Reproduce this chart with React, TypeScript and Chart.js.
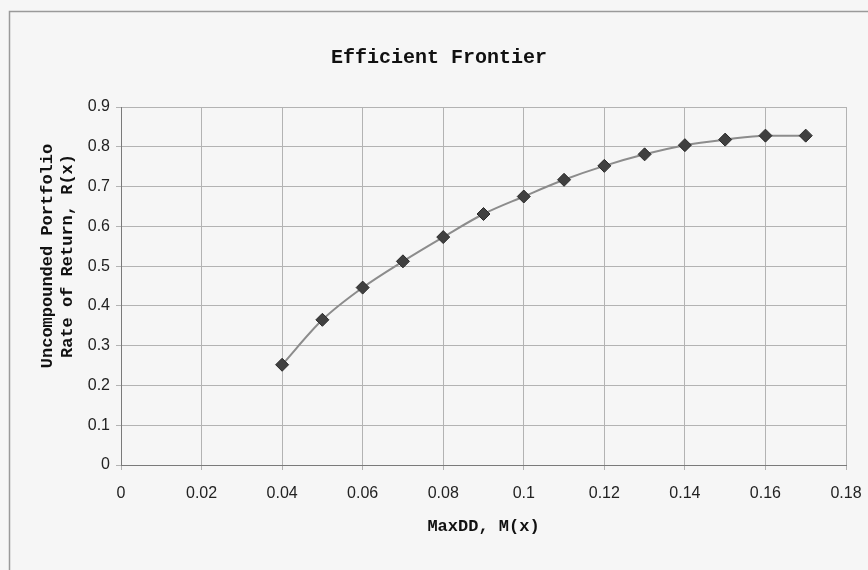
import React, { useEffect, useRef } from "react";
import { Chart, registerables } from "chart.js";

Chart.register(...registerables);

const maxDD = [0.04, 0.05, 0.06, 0.07, 0.08, 0.09, 0.1, 0.11, 0.12, 0.13, 0.14, 0.15, 0.16, 0.17];
const portfolioReturn = [0.252, 0.365, 0.446, 0.512, 0.573, 0.631, 0.675, 0.717, 0.752, 0.781, 0.804, 0.818, 0.828, 0.828];
const xTickLabels = ["0", "0.02", "0.04", "0.06", "0.08", "0.1", "0.12", "0.14", "0.16", "0.18"];
const yTickLabels = ["0", "0.1", "0.2", "0.3", "0.4", "0.5", "0.6", "0.7", "0.8", "0.9"];
const chartTitle = "Efficient Frontier";
const xTitle = "MaxDD, M(x)";
const yTitleLines = ["Uncompounded Portfolio", "Rate of Return, R(x)"];

const MONO = "'Liberation Mono', 'DejaVu Sans Mono', monospace";
const SANS = "'Liberation Sans', Arial, sans-serif";

const backgroundPlugin = {
  id: "pageBackground",
  beforeDraw(chart: any) {
    const ctx = chart.ctx;
    ctx.save();
    ctx.fillStyle = "#f6f6f6";
    ctx.fillRect(0, 0, chart.width, chart.height);
    ctx.strokeStyle = "#9a9a9a";
    ctx.lineWidth = 1.5;
    ctx.strokeRect(9.5, 11.5, chart.width + 20, chart.height + 20);
    ctx.restore();
  },
};

const yTitlePlugin = {
  id: "yTitleLines",
  afterDraw(chart: any) {
    const ctx = chart.ctx;
    const cy = 256;
    const xs = [48, 68];
    ctx.save();
    ctx.fillStyle = "#111";
    ctx.font = `bold 17px ${MONO}`;
    ctx.textAlign = "center";
    ctx.textBaseline = "middle";
    yTitleLines.forEach((line, i) => {
      ctx.save();
      ctx.translate(xs[i], cy);
      ctx.rotate(-Math.PI / 2);
      ctx.fillText(line, 0, 0);
      ctx.restore();
    });
    ctx.restore();
  },
};

export default function App() {
  const canvasRef = useRef<HTMLCanvasElement | null>(null);

  useEffect(() => {
    if (!canvasRef.current) return;
    const points = maxDD.map((x, i) => ({ x, y: portfolioReturn[i] }));
    const chart = new Chart(canvasRef.current, {
      type: "line",
      data: {
        datasets: [
          {
            label: "Efficient Frontier",
            data: points,
            borderColor: "#8c8c8c",
            borderWidth: 2,
            cubicInterpolationMode: "monotone",
            pointStyle: "rectRot",
            pointRadius: 6.5,
            pointBackgroundColor: "#404040",
            pointBorderColor: "#2a2a2a",
            pointBorderWidth: 1,
            fill: false,
          },
        ],
      },
      options: {
        animation: false,
        responsive: true,
        maintainAspectRatio: false,
        layout: { padding: { left: 32, right: 22, top: 0, bottom: 0 } },
        plugins: {
          legend: { display: false },
          tooltip: { enabled: false },
          title: {
            display: true,
            text: chartTitle,
            color: "#111",
            font: { family: MONO, size: 20, weight: "bold", lineHeight: 1.2 },
            padding: { top: 46, bottom: 37 },
          },
        },
        scales: {
          x: {
            type: "linear",
            min: 0,
            max: 0.18,
            afterFit: (scale: any) => {
              scale.height = 105;
              scale.paddingLeft = 0;
              scale.paddingRight = 0;
            },
            ticks: {
              stepSize: 0.02,
              color: "#222",
              font: { family: SANS, size: 16 },
              padding: 14,
              maxRotation: 0,
              callback: (_v: any, i: number) => xTickLabels[i],
            },
            grid: { color: "#b3b3b3", lineWidth: 1, tickLength: 5, drawTicks: true },
            border: { color: "#7a7a7a", width: 1 },
            title: {
              display: true,
              text: xTitle,
              color: "#111",
              font: { family: MONO, size: 17, weight: "bold", lineHeight: 1.2 },
              padding: { top: 0, bottom: 33 },
            },
          },
          y: {
            type: "linear",
            min: 0,
            max: 0.9,
            afterFit: (scale: any) => {
              scale.width = 89;
            },
            ticks: {
              stepSize: 0.1,
              color: "#222",
              font: { family: SANS, size: 16 },
              padding: 6,
              callback: (_v: any, i: number) => yTickLabels[i],
            },
            grid: { color: "#b3b3b3", lineWidth: 1, tickLength: 5, drawTicks: true },
            border: { color: "#7a7a7a", width: 1 },
          },
        },
      },
      plugins: [backgroundPlugin, yTitlePlugin],
    });
    return () => chart.destroy();
  }, []);

  return (
    <div style={{ position: "absolute", left: 0, top: 0, width: 868, height: 570 }}>
      <canvas ref={canvasRef} />
    </div>
  );
}
